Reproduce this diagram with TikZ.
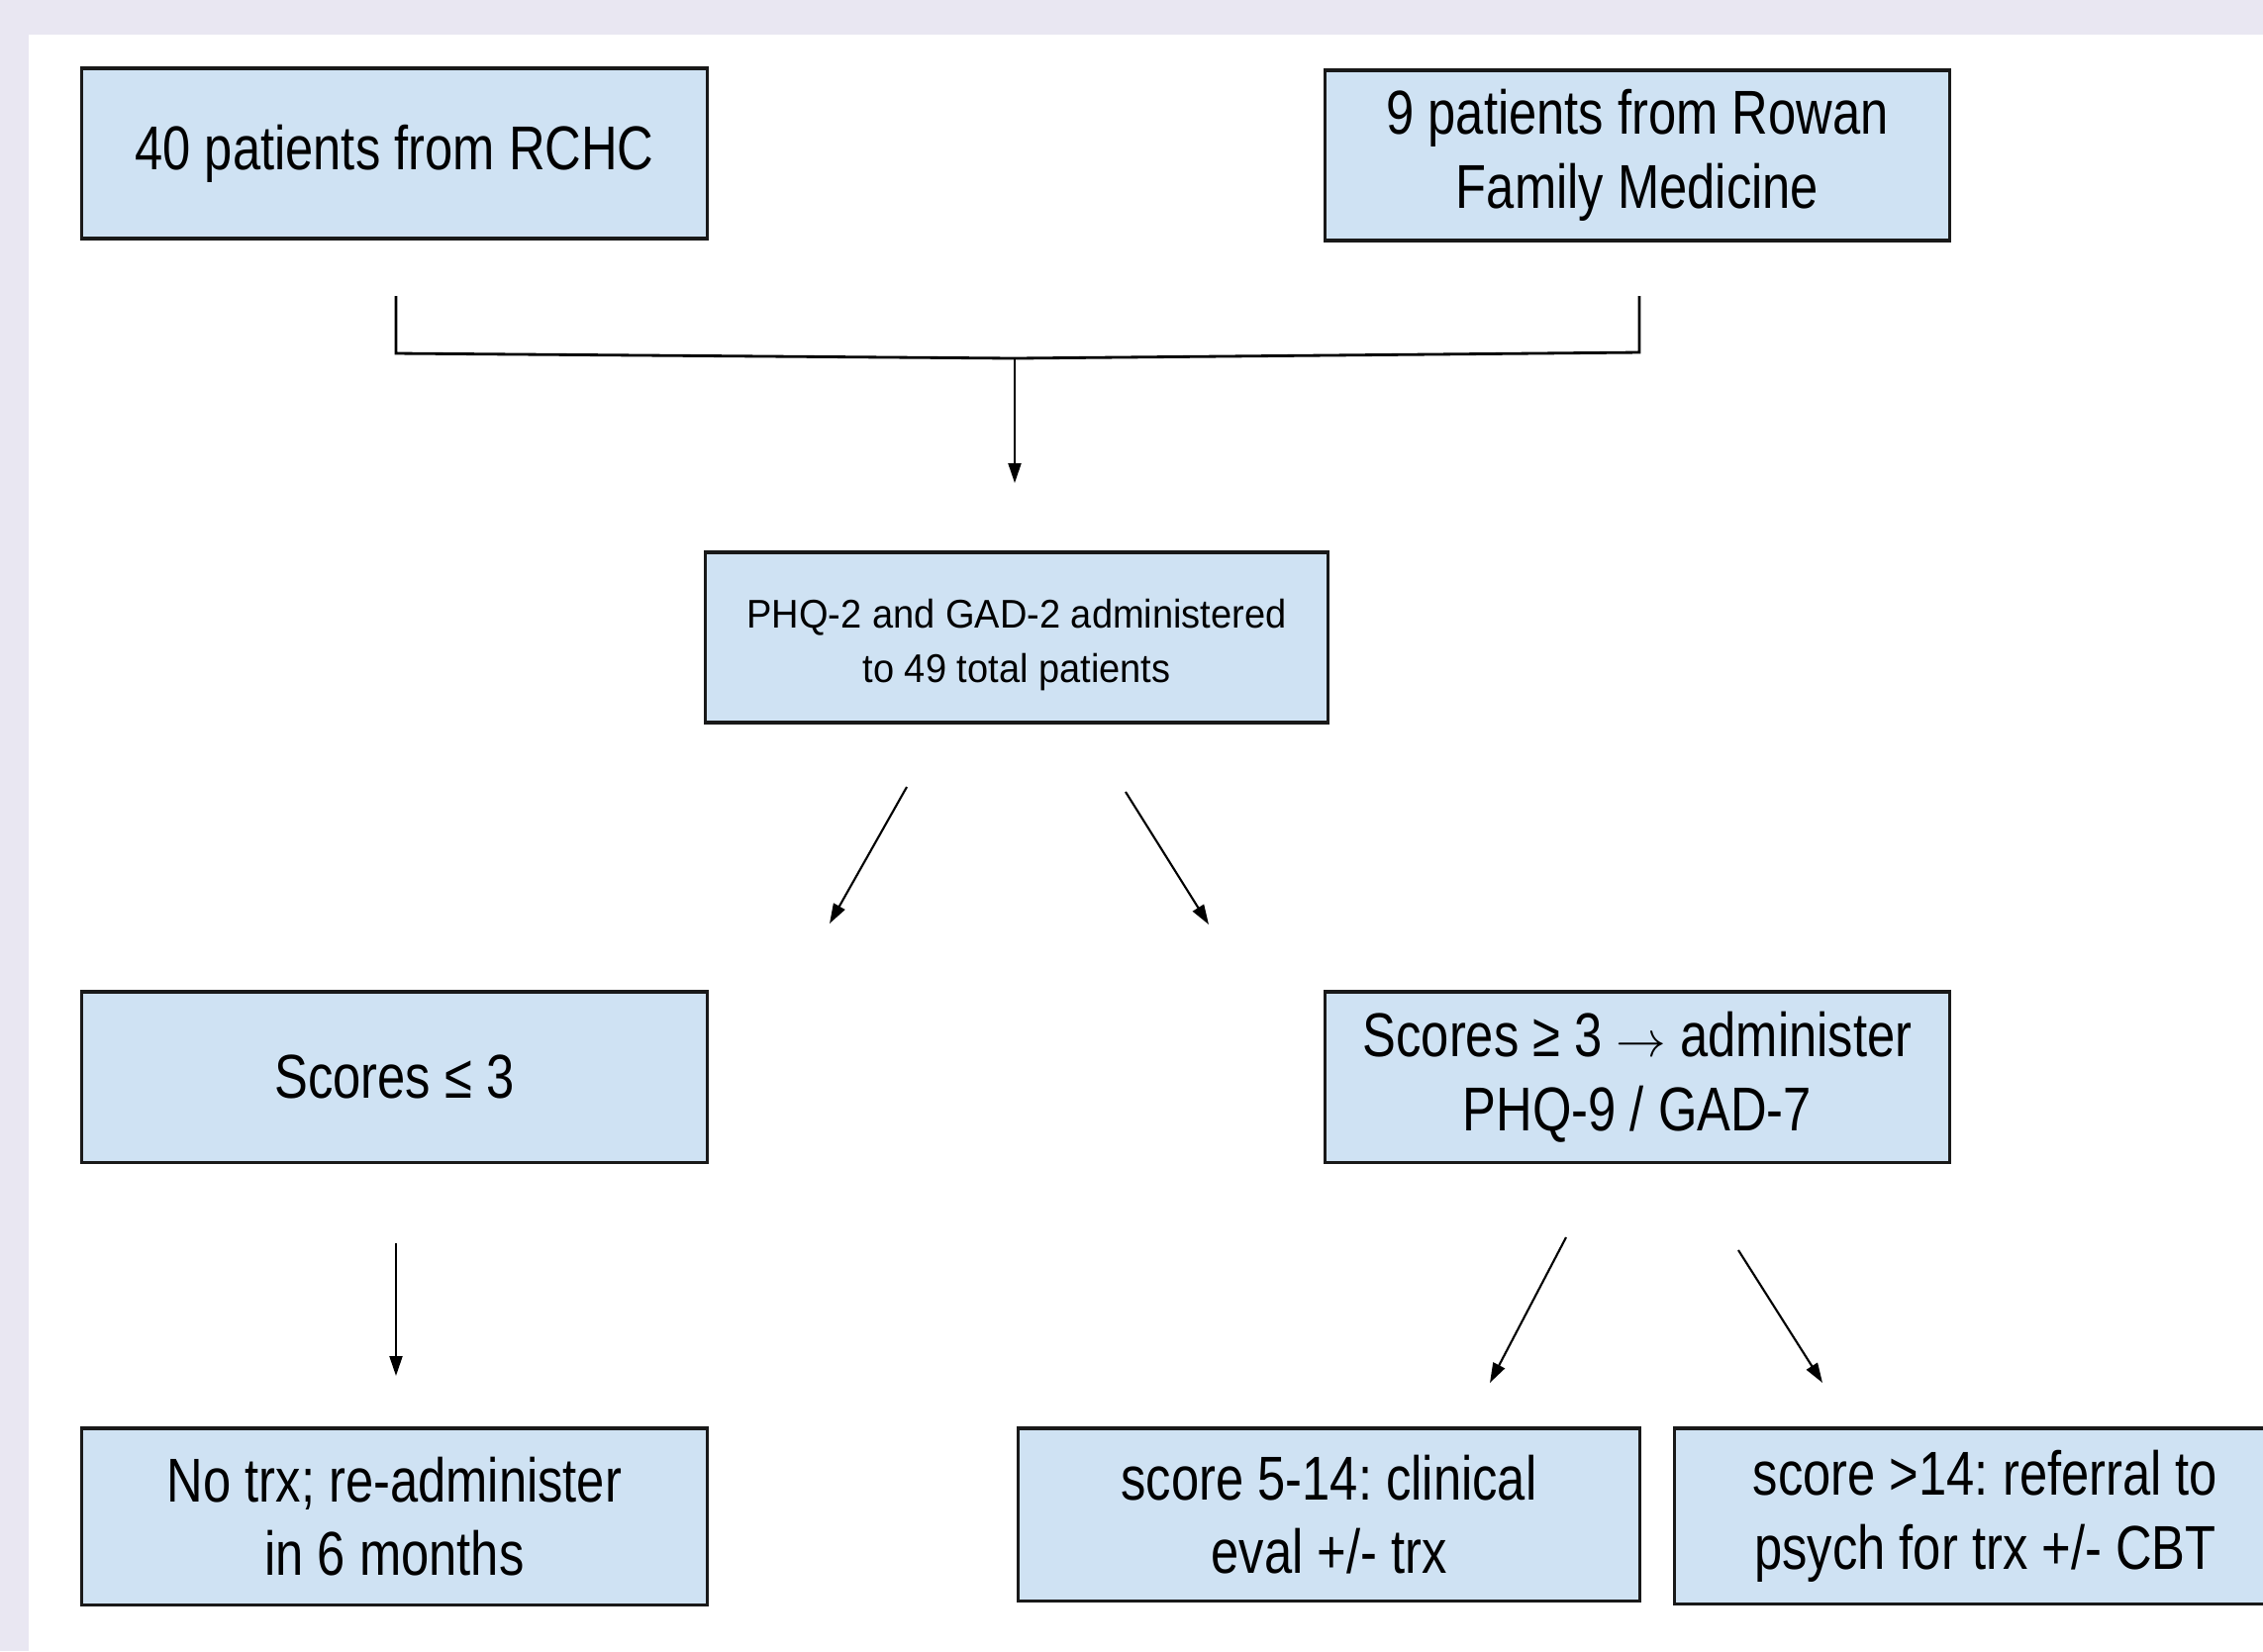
\documentclass[tikz,border=0pt]{standalone}
\usepackage{fontspec}
\setmainfont{Liberation Sans}[FakeStretch=0.81]
\newfontfamily\narrowfont{Liberation Sans}[FakeStretch=0.94]
\usetikzlibrary{arrows.meta}
\definecolor{boxblue}{HTML}{CFE2F3}
\definecolor{lavender}{HTML}{E9E7F2}
\frenchspacing

\begin{document}
\begin{tikzpicture}[x=0.01cm,y=-0.01cm,
  flowbox/.style={draw=black!90,line width=0.9pt,fill=boxblue,minimum width=6.31cm,minimum height=1.72cm,
    align=center,inner sep=0pt,font=\fontsize{17.8}{21.2}\selectfont},
  flowarrow/.style={-{Triangle[length=0.2cm,width=0.13cm]},line width=0.6pt}]
 \useasboundingbox (0,0) rectangle (2286,1668);
 \fill[lavender] (0,0) rectangle (2286,1668);
 \fill[white] (29,35) rectangle (2286,1668);
 % sources
 \node[flowbox] (rchc) at (398.5,155) {40 patients from RCHC};
 \node[flowbox] (rowan) at (1654,157) {9 patients from Rowan\\Family Medicine};
 % screening
 \node[flowbox,minimum width=6.28cm,font=\narrowfont\fontsize{11.5}{15.6}\selectfont] (screen) at (1027,644)
   {\rule{0pt}{0.44cm}PHQ-2 and GAD-2 administered\\to 49 total patients};
 % results
 \node[flowbox] (low) at (398.5,1088) {Scores ≤ 3};
 \node[flowbox] (high) at (1654,1088) {Scores ≥ 3 {\fontsize{14.5}{14.5}\selectfont$\rightarrow$} administer\\PHQ-9 / GAD-7};
 % follow up
 \node[flowbox,minimum height=1.78cm] (retest) at (398.5,1532) {No trx; re-administer\\in 6 months};
 \node[flowbox,minimum width=6.27cm,minimum height=1.74cm] (clinical) at (1342.5,1530) {score 5-14: clinical\\eval +/- trx};
 \node[flowbox,minimum width=6.27cm,minimum height=1.77cm] (referral) at (2005.5,1531.5) {score >14: referral to\\psych for trx +/- CBT};

 % bracket joining the two sources
 \coordinate (rchcdrop) at (400,299);
 \coordinate (rchcfoot) at (400,357);
 \coordinate (join) at (1025,362);
 \coordinate (rowanfoot) at (1656,356);
 \coordinate (rowandrop) at (1656,299);
 \coordinate (joinend) at (1025,488);
 \draw[line width=0.8pt] (rchcdrop) -- (rchcfoot) -- (join) -- (rowanfoot) -- (rowandrop);
 \draw[flowarrow] (join) -- (joinend);

 % split after screening
 \coordinate (lowstart) at (916,795);
 \coordinate (lowend) at (838,933);
 \coordinate (highstart) at (1137,800);
 \coordinate (highend) at (1221,934);
 \draw[flowarrow] (lowstart) -- (lowend);
 \draw[flowarrow] (highstart) -- (highend);

 % next steps
 \coordinate (reteststart) at (400,1256);
 \coordinate (retestend) at (400,1390);
 \coordinate (clinicalstart) at (1582,1250);
 \coordinate (clinicalend) at (1505,1397);
 \coordinate (referralstart) at (1756,1263);
 \coordinate (referralend) at (1841,1397);
 \draw[flowarrow] (reteststart) -- (retestend);
 \draw[flowarrow] (clinicalstart) -- (clinicalend);
 \draw[flowarrow] (referralstart) -- (referralend);
\end{tikzpicture}
\end{document}
